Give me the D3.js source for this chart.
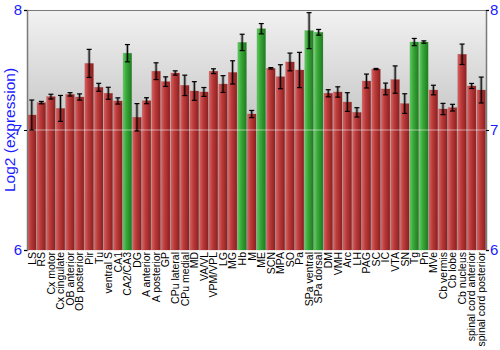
<!DOCTYPE html>
<html>
<head>
<meta charset="utf-8">
<script src="https://cdn.jsdelivr.net/npm/d3@7"></script>
<style>
  html, body { margin: 0; padding: 0; background: #fff; }
  svg { display: block; font-family: "Liberation Sans", Arial, sans-serif; }
</style>
</head>
<body>
<svg id="chart" width="500" height="350"></svg>
<script>
// Brain regions, in plotting order
const regions = [
  "LS", "RS", "Cx motor", "Cx cingulate", "OB anterior", "OB posterior", "Pir", "Tu",
  "ventral S", "CA1", "CA2/CA3", "DG", "A anterior", "A posterior", "GP", "CPu lateral",
  "CPu medial", "MD", "VA/VL", "VPM/VPL", "LG", "MG", "Hb", "M", "ME", "SCN", "MPA", "SO",
  "Pa", "SPa ventral", "SPa dorsal", "DM", "VMH", "Arc", "LH", "PAG", "SC", "IC", "VTA",
  "SN", "Tg", "Pn", "MVe", "Cb vermis", "Cb lobe", "Cb nucleus",
  "spinal cord anterior", "spinal cord posterior"
];

// Mean log2 expression per region
const expression = [
  7.125, 7.228, 7.278, 7.180, 7.297, 7.275, 7.555, 7.356,
  7.306, 7.242, 7.640, 7.106, 7.244, 7.490, 7.403, 7.475,
  7.372, 7.325, 7.317, 7.490, 7.383, 7.480, 7.730, 7.133, 7.844, 7.514, 7.444, 7.567,
  7.500, 7.828, 7.814, 7.306, 7.317, 7.233, 7.147, 7.408, 7.508, 7.342, 7.420,
  7.220, 7.733, 7.733, 7.333, 7.175, 7.186, 7.631,
  7.367, 7.333
];

// Standard error per region
const stdError = [
  0.125, 0.010, 0.020, 0.108, 0.014, 0.026, 0.117, 0.033,
  0.050, 0.026, 0.072, 0.114, 0.025, 0.070, 0.040, 0.018,
  0.085, 0.078, 0.037, 0.020, 0.070, 0.097, 0.068, 0.030, 0.043, 0.006, 0.100, 0.074,
  0.147, 0.150, 0.024, 0.030, 0.043, 0.078, 0.039, 0.058, 0.005, 0.049, 0.114,
  0.082, 0.030, 0.010, 0.040, 0.047, 0.028, 0.085,
  0.021, 0.108
];

// Regions highlighted as enriched
const highlighted = ["CA2/CA3", "Hb", "ME", "SPa ventral", "SPa dorsal", "Tg", "Pn"];

const yTicks = [6, 7, 8];
const yDomain = [6, 8];
const yTitle = "Log2 (expression)";

const svg = d3.select("#chart");
const margin = { left: 27, right: 14, top: 10, bottom: 100 };
const W = 500, H = 350;
const x0 = margin.left, x1 = W - margin.right;
const y0 = margin.top, y1 = H - margin.bottom;

const x = d3.scaleBand().domain(regions).range([x0, x1]).paddingInner(0.1).paddingOuter(0.05);
const y = d3.scaleLinear().domain(yDomain).range([y1, y0]);

const data = regions.map((r, i) => ({ r, v: expression[i], e: stdError[i], hi: highlighted.includes(r) }));

const defs = svg.append("defs");
const bg = defs.append("linearGradient").attr("id", "bg").attr("x1", 0).attr("x2", 0).attr("y1", 0).attr("y2", 1);
bg.append("stop").attr("offset", "0%").attr("stop-color", "#f2f2f2");
bg.append("stop").attr("offset", "50%").attr("stop-color", "#c4c4c4");
bg.append("stop").attr("offset", "100%").attr("stop-color", "#b0b0b0");

function barGrad(id, light, mid, dark) {
  const g = defs.append("linearGradient").attr("id", id).attr("x1", 0).attr("x2", 1).attr("y1", 0).attr("y2", 0);
  g.append("stop").attr("offset", "0%").attr("stop-color", light);
  g.append("stop").attr("offset", "35%").attr("stop-color", mid);
  g.append("stop").attr("offset", "100%").attr("stop-color", dark);
}
barGrad("red", "#d46464", "#bf3c3c", "#8a2020");
barGrad("green", "#5fcc5f", "#3aaa3a", "#1f7a1f");

// plot background
svg.append("rect").attr("x", x0).attr("y", y0).attr("width", x1 - x0).attr("height", y1 - y0)
  .attr("fill", "url(#bg)");

// bars
svg.append("g").selectAll("rect").data(data).join("rect")
  .attr("x", d => x(d.r))
  .attr("y", d => y(d.v))
  .attr("width", x.bandwidth())
  .attr("height", d => y(yDomain[0]) - y(d.v))
  .attr("fill", d => d.hi ? "url(#green)" : "url(#red)")
  .attr("stroke", d => d.hi ? "#2f8f2f" : "#a03030")
  .attr("stroke-opacity", 0.35)
  .attr("stroke-width", 0.6);

// light reference line at 7
svg.append("line").attr("x1", x0).attr("x2", x1).attr("y1", y(7)).attr("y2", y(7))
  .attr("stroke", "#ffffff").attr("stroke-opacity", 0.35).attr("stroke-width", 1.5);

// error bars
const eb = svg.append("g").selectAll("g").data(data).join("g")
  .attr("transform", d => `translate(${x(d.r) + x.bandwidth() / 2},0)`);
eb.append("line").attr("y1", d => y(d.v + d.e)).attr("y2", d => y(d.v - d.e))
  .attr("stroke", "#000").attr("stroke-opacity", 0.3).attr("stroke-width", 3);
eb.append("line").attr("y1", d => y(d.v + d.e)).attr("y2", d => y(d.v - d.e))
  .attr("stroke", "#000").attr("stroke-width", 1);
[d => y(d.v + d.e), d => y(d.v - d.e)].forEach(fy => {
  eb.append("line").attr("x1", -2.5).attr("x2", 2.5).attr("y1", fy).attr("y2", fy)
    .attr("stroke", "#000").attr("stroke-width", 1.2);
});

// frame line along the top
svg.append("line").attr("x1", x0).attr("x2", x1).attr("y1", y0 + 0.5).attr("y2", y0 + 0.5)
  .attr("stroke", "#7a7a7a").attr("stroke-width", 1.2);

// y axes on both sides
const axL = svg.append("g").attr("transform", `translate(${x0},0)`)
  .call(d3.axisLeft(y).tickValues(yTicks).tickFormat(d3.format("d")).tickSize(3).tickPadding(2));
const axR = svg.append("g").attr("transform", `translate(${x1},0)`)
  .call(d3.axisRight(y).tickValues(yTicks).tickFormat(d3.format("d")).tickSize(3).tickPadding(1));
[axL, axR].forEach(ax => {
  ax.select(".domain").attr("stroke", "#7a7a7a").attr("stroke-width", 1.5);
  ax.selectAll(".tick line").attr("stroke", "#000");
  ax.selectAll(".tick text").attr("fill", "#1a1aff").attr("font-size", 15)
    .attr("font-family", "'Liberation Sans', Arial, sans-serif");
});

// y title
svg.append("text")
  .attr("transform", `translate(15,${(y0 + y1) / 2}) rotate(-90)`)
  .attr("text-anchor", "middle")
  .attr("fill", "#1a1aff")
  .attr("font-size", 15.5)
  .text(yTitle);

// region labels
svg.append("g").selectAll("text").data(regions).join("text")
  .attr("transform", d => `translate(${x(d) + x.bandwidth() / 2},${y1 + 2}) rotate(-90)`)
  .attr("dy", "0.36em")
  .attr("text-anchor", "end")
  .attr("font-size", 10.5)
  .attr("fill", "#000")
  .text(d => d);
</script>
</body>
</html>
